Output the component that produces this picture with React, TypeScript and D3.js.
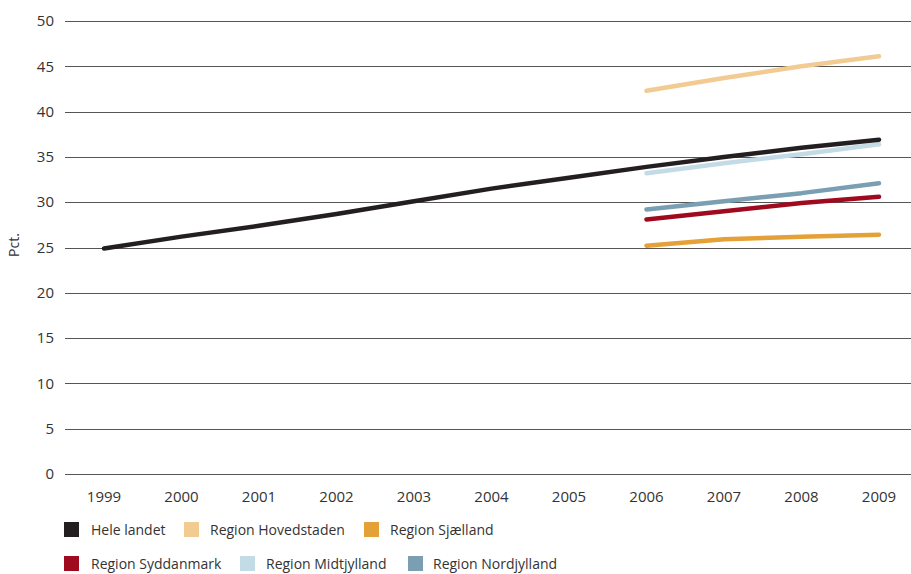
import React from "react";
import * as d3 from "d3";

const years = ["1999","2000","2001","2002","2003","2004","2005","2006","2007","2008","2009"];
const yTicks = [0,5,10,15,20,25,30,35,40,45,50];

const heleLandet = [24.9,26.2,27.4,28.7,30.1,31.5,32.7,33.9,35.0,36.0,36.9];
const hovedstaden = [null,null,null,null,null,null,null,42.3,43.7,45.0,46.1];
const sjaelland = [null,null,null,null,null,null,null,25.2,25.9,26.2,26.4];
const syddanmark = [null,null,null,null,null,null,null,28.1,29.0,29.9,30.6];
const midtjylland = [null,null,null,null,null,null,null,33.2,34.3,35.3,36.4];
const nordjylland = [null,null,null,null,null,null,null,29.2,30.1,31.0,32.1];

const seriesNames = ["Hele landet","Region Hovedstaden","Region Sjælland","Region Syddanmark","Region Midtjylland","Region Nordjylland"];
const seriesColors = ["#231f20","#f2cb93","#e4a137","#a00a1e","#c3dbe7","#7a9fb3"];
const seriesData = [heleLandet,hovedstaden,sjaelland,syddanmark,midtjylland,nordjylland];

export default function App() {
  const W = 911, H = 574;
  const left = 65, right = 911, top = 21, bottom = 474;
  const x = d3.scalePoint<string>().domain(years).range([104, 879]);
  const y = d3.scaleLinear().domain([0, 50]).range([bottom, top]);
  const line = d3.line<number | null>()
    .defined(d => d != null)
    .x((_, i) => x(years[i]) as number)
    .y(d => y(d as number));
  const font = "'Open Sans', 'DejaVu Sans', sans-serif";
  const drawOrder = [1, 2, 3, 4, 5, 0];
  const legendPos = [
    { sx: 64, tx: 91, cy: 530 },
    { sx: 184, tx: 210, cy: 530 },
    { sx: 364, tx: 390, cy: 530 },
    { sx: 64, tx: 91, cy: 564 },
    { sx: 240, tx: 266, cy: 564 },
    { sx: 408, tx: 433, cy: 564 },
  ];
  return (
    <svg width={W} height={H} style={{ position: "absolute", left: 0, top: 0 }} fontFamily={font}>
      <rect width={W} height={H} fill="#fff" />
      {yTicks.map(t => (
        <g key={t}>
          <line x1={left} x2={right} y1={Math.round(y(t)) + 0.5} y2={Math.round(y(t)) + 0.5} stroke="#555" strokeWidth={1} />
          <text x={54} y={y(t)} dy="0.35em" textAnchor="end" fontSize={15} fill="#333">{t}</text>
        </g>
      ))}
      {years.map(yr => (
        <text key={yr} x={x(yr)} y={497} dy="0.35em" textAnchor="middle" fontSize={15} fill="#333">{yr}</text>
      ))}
      <text transform={`translate(19,${245}) rotate(-90)`} textAnchor="middle" fontSize={14} fill="#333">Pct.</text>
      {drawOrder.map(i => (
        <path key={i} d={line(seriesData[i]) || ""} fill="none" stroke={seriesColors[i]} strokeWidth={4.5} strokeLinecap="round" strokeLinejoin="round" />
      ))}
      {seriesNames.map((n, i) => (
        <g key={n}>
          <rect x={legendPos[i].sx} y={legendPos[i].cy - 8} width={15} height={15} fill={seriesColors[i]} />
          <text x={legendPos[i].tx} y={legendPos[i].cy} dy="0.35em" fontSize={14} fill="#333">{n}</text>
        </g>
      ))}
    </svg>
  );
}
